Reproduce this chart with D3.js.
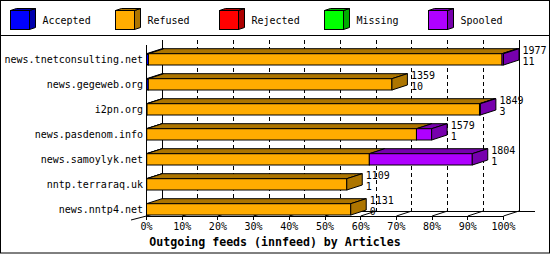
<!DOCTYPE html>
<html><head><meta charset="utf-8">
<script src="https://cdn.jsdelivr.net/npm/d3@7"></script>
<style>
body{margin:0;background:#fff}
svg text{font-family:"DejaVu Sans Mono",monospace;}
</style></head><body>
<svg id="c" width="550" height="255"></svg>
<script>
const hosts = ["news.tnetconsulting.net","news.gegeweb.org","i2pn.org","news.pasdenom.info","news.samoylyk.net","nntp.terraraq.uk","news.nntp4.net"];
const total    = [1977,1359,1849,1579,1804,1109,1131];
const accepted = [11,10,3,1,1,1,0];
const refused  = [1958,1349,1841,1494,1233,1108,1131];
const rejected = [0,0,0,0,0,0,0];
const missing  = [0,0,0,0,0,0,0];
const spooled  = [8,0,5,84,570,0,0];
const seriesNames  = ["Accepted","Refused","Rejected","Missing","Spooled"];
const seriesColors = ["#0000ff","#ffac00","#ff0000","#00ff00","#af00ff"];
const tickValues = [0,10,20,30,40,50,60,70,80,90,100];
const title = "Outgoing feeds (innfeed) by Articles";

const series = [accepted, refused, rejected, missing, spooled];
const dark = c => { const k = d3.rgb(c); return d3.rgb(k.r*0.68, k.g*0.68, k.b*0.68).formatHex(); };

const svg = d3.select("#c");
const W = 550, H = 255;
svg.append("rect").attr("x",0.5).attr("y",0.5).attr("width",W-1).attr("height",H-2.5)
  .attr("fill","#fff").attr("stroke","#000");
svg.append("line").attr("x1",0).attr("x2",W).attr("y1",35.5).attr("y2",35.5).attr("stroke","#000");

// legend
const lx = d3.scaleLinear().domain([0,1]).range([10,114.5]);
const lg = svg.append("g");
seriesNames.forEach((n,i)=>{
  const x = Math.round(lx(i))+0.5, y = 10.5, s = 19, dx = 6, dy = -2;
  const g = lg.append("g").attr("stroke","#000").attr("stroke-width",1);
  g.append("path").attr("d",`M${x+s},${y}L${x+s+dx},${y+dy}L${x+s+dx},${y+s+dy}L${x+s},${y+s}Z`).attr("fill",dark(seriesColors[i]));
  g.append("path").attr("d",`M${x},${y}L${x+dx},${y+dy}L${x+s+dx},${y+dy}L${x+s},${y}Z`).attr("fill",dark(seriesColors[i]));
  g.append("rect").attr("x",x).attr("y",y).attr("width",s).attr("height",s).attr("fill",seriesColors[i]);
  lg.append("text").attr("x",x+32).attr("y",24).attr("font-size",10).text(n);
});

// scales
const maxT = d3.max(total);
const DX = 15.5, DY = -5;
const xf = d3.scaleLinear().domain([0,maxT]).range([146.5,503.5]);
const xp = d3.scaleLinear().domain([0,100]).range([146.5,503.5]);
const y = d3.scaleBand().domain(hosts).range([40,215]).paddingInner(0);
const frontBottom = 216, frontTop = 45;
const barH = 11.3;

const ax = svg.append("g").attr("stroke","#000").attr("fill","none").attr("shape-rendering","crispEdges");
// back dashed gridlines
tickValues.filter(t=>t>0&&t<100).forEach(t=>{
  ax.append("line").attr("x1",xp(t)+DX).attr("x2",xp(t)+DX).attr("y1",frontTop+DY).attr("y2",frontBottom+DY)
    .attr("stroke-dasharray","4,3");
});
// back walls
ax.append("line").attr("x1",xp(0)+DX).attr("x2",xp(0)+DX).attr("y1",frontTop+DY).attr("y2",frontBottom+DY);
ax.append("line").attr("x1",xp(100)+DX).attr("x2",xp(100)+DX).attr("y1",frontTop+DY).attr("y2",frontBottom+DY);
ax.append("line").attr("x1",xp(0)+DX).attr("x2",xp(100)+2*DX).attr("y1",frontBottom+DY).attr("y2",frontBottom+DY);
const ax2 = svg.append("g").attr("stroke","#000").attr("fill","none");
// floor diagonals
tickValues.forEach(t=>{
  ax2.append("line").attr("x1",xp(t)).attr("x2",xp(t)+DX).attr("y1",frontBottom).attr("y2",frontBottom+DY);
});
ax2.append("line").attr("x1",xp(0)-DX).attr("x2",xp(0)).attr("y1",frontBottom-DY*0.8).attr("y2",frontBottom);

// bars
const bars = svg.append("g").attr("stroke","#000").attr("stroke-width",1);
hosts.forEach((h,i)=>{
  const bot = y(h)+y.bandwidth(), top = bot - barH;
  let cum = 0;
  let last = -1;
  series.forEach((s,k)=>{ if (s[i]>0) last = k; });
  series.forEach((s,k)=>{
    const v = s[i]; if (!(v>0)) return;
    const x0 = xf(cum), x1 = xf(cum+v); cum += v;
    const c = seriesColors[k];
    bars.append("path").attr("d",`M${x0},${top}L${x0+DX},${top+DY}L${x1+DX},${top+DY}L${x1},${top}Z`).attr("fill",dark(c));
    bars.append("rect").attr("x",x0).attr("y",top).attr("width",x1-x0).attr("height",bot-top).attr("fill",c);
    if (k===last) {
      bars.append("path").attr("d",`M${x1},${top}L${x1+DX},${top+DY}L${x1+DX},${bot+DY}L${x1},${bot}Z`).attr("fill",dark(c));
    }
  });
  const xe = xf(total[i]) + DX + 3.5;
  svg.append("text").attr("x",xe).attr("y",top+0.3).attr("font-size",10).text(total[i]);
  svg.append("text").attr("x",xe).attr("y",bot-0.3).attr("font-size",10).text(accepted[i]);
  svg.append("text").attr("x",143).attr("y",bot-2.5).attr("font-size",10).attr("text-anchor","end").text(h);
});

// front axes
const fa = svg.append("g").attr("stroke","#000").attr("shape-rendering","crispEdges");
fa.append("line").attr("x1",xp(0)).attr("x2",xp(0)).attr("y1",frontTop).attr("y2",frontBottom);
fa.append("line").attr("x1",xp(0)).attr("x2",xp(100)).attr("y1",frontBottom).attr("y2",frontBottom);
tickValues.forEach(t=>{
  fa.append("line").attr("x1",xp(t)).attr("x2",xp(t)).attr("y1",frontBottom).attr("y2",frontBottom+4);
  svg.append("text").attr("x",xp(t)).attr("y",230).attr("font-size",10).attr("text-anchor","middle").text(t+"%");
});

svg.append("text").attr("x",275).attr("y",245.5).attr("font-size",11.6).attr("font-weight","bold")
  .attr("text-anchor","middle").text(title);
</script></body></html>
